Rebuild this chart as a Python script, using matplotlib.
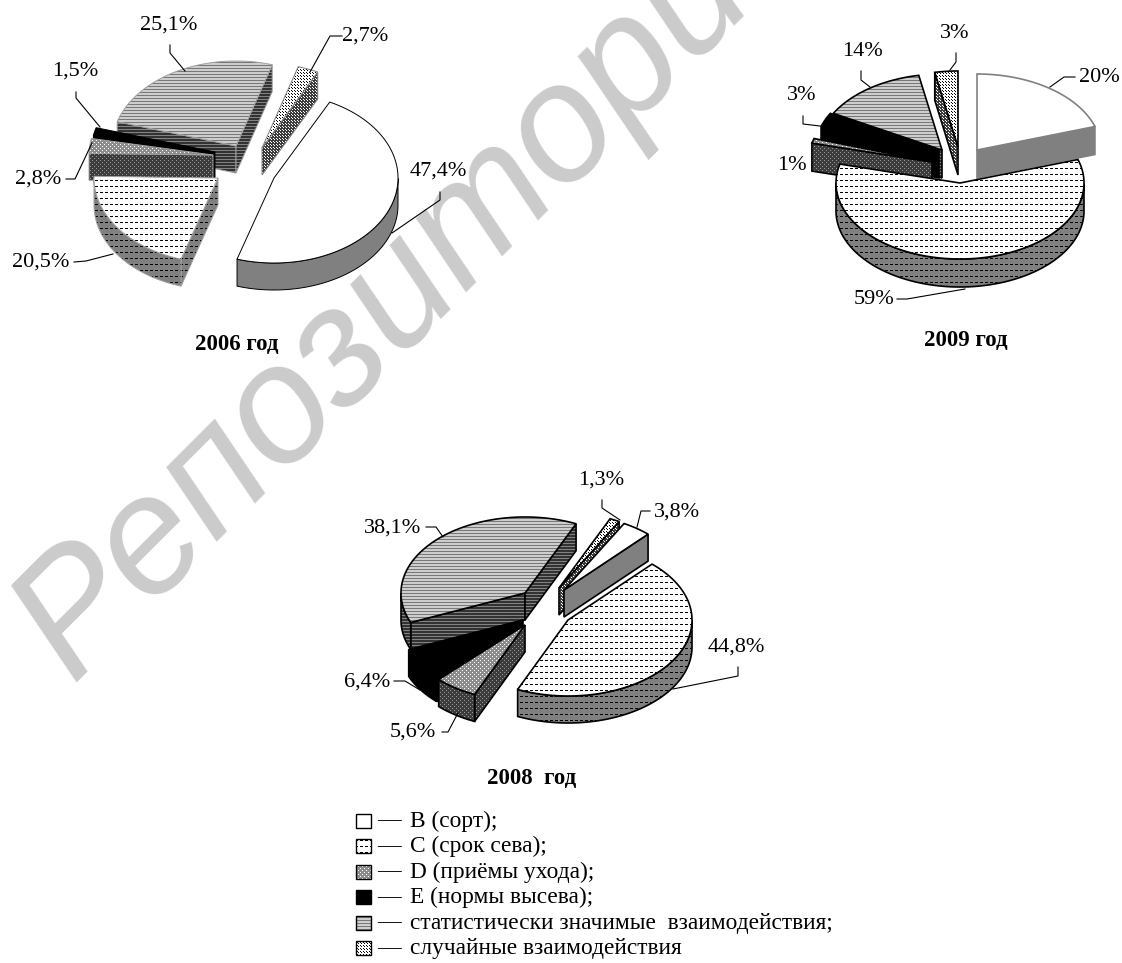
import numpy as np
import matplotlib
matplotlib.use("Agg")
import matplotlib.pyplot as plt
from matplotlib.patches import Polygon

plt.rcParams['font.family'] = ['Liberation Serif', 'DejaVu Serif']

# shares in percent, order: B, C, D, E, interactions, random
values_2006 = [47.4, 20.5, 2.8, 1.5, 25.1, 2.7]
values_2009 = [20, 59, 1, 3, 14, 3]
values_2008 = [3.8, 44.8, 5.6, 6.4, 38.1, 1.3]
labels_2006 = ["47,4%", "20,5%", "2,8%", "1,5%", "25,1%", "2,7%"]
labels_2009 = ["20%", "59%", "1%", "3%", "14%", "3%"]
labels_2008 = ["3,8%", "44,8%", "5,6%", "6,4%", "38,1%", "1,3%"]
legend_labels = ["B (сорт);", "C (срок сева);", "D (приёмы ухода);", "E (нормы высева);",
                 "статистически значимые  взаимодействия;", "случайные взаимодействия"]

# tips of the exploded slices on the figure
tips_2006 = [(274, 178), (218, 178), (213, 155), (215, 152), (236, 146), (262, 148)]
tips_2009 = [(977, 150), (960, 183), (932, 162), (939, 150), (942, 150), (958, 147)]
tips_2008 = [(564, 590), (568, 620), (525, 625), (523, 620), (525, 593), (559, 588)]
# outline colours, slice by slice
edges_2006 = ["black", "#a0a0a0", "#a0a0a0", "black", "#a0a0a0", "#808080"]
edges_2009 = ["#808080", "black", "black", "black", "black", "black"]
edges_2008 = ["black"] * 6


def dots(fg, bg, step):
    tile = np.full((step, step), bg, dtype=float)
    tile[0, 0] = fg
    tile[step // 2, step // 2] = fg
    return tile


def dashes(fg, bg):
    tile = np.full((6, 5), bg, dtype=float)
    tile[0, :3] = fg
    return tile


def stripes(*grays):
    return np.array(grays, dtype=float).reshape(-1, 1)


# (top texture, wall texture) per category, grey levels 0-255
textures = [
    (stripes(255), stripes(128)),
    (dashes(0, 255), dashes(0, 128)),
    (dots(255, 140, 4), dots(150, 60, 4)),
    (stripes(0), stripes(0)),
    (stripes(205, 205, 120), stripes(130, 50, 50)),
    (dots(0, 255, 3), dots(255, 60, 3)),
]

W, H = 1122, 963
fig = plt.figure(figsize=(W / 100, H / 100), dpi=100)
ax = fig.add_axes([0, 0, 1, 1])
ax.set_xlim(0, W)
ax.set_ylim(H, 0)
ax.axis('off')

ax.text(72, 682, "Репозиторий", family='Liberation Sans', style='italic', fontsize=120, color='#cbcbcb',
        rotation=45, rotation_mode='anchor', ha='left', va='baseline', zorder=0)


def face(points, tile, edge, lw):
    ny = H // tile.shape[0] + 1
    nx = W // tile.shape[1] + 1
    im = ax.imshow(np.tile(tile, (ny, nx))[:H, :W], cmap='gray', vmin=0, vmax=255, extent=(0, W, H, 0),
                   aspect='auto', interpolation='nearest', zorder=1)
    outline = Polygon(points, closed=True, fill=False, edgecolor=edge, lw=lw, zorder=1)
    ax.add_patch(outline)
    im.set_clip_path(outline)


def draw_pie(values, tips, edge_cols, start, rx, ry, depth, lw):
    edges = start + np.concatenate([[0], np.cumsum(values)]) * 3.6
    slices = []
    for i in range(len(values)):
        th = np.radians(np.arange(edges[i], edges[i + 1], 0.5).tolist() + [edges[i + 1]])
        tx, ty = tips[i]
        xs = tx + rx * np.sin(th)
        ys = ty - ry * np.cos(th)
        slices.append((np.mean(ys), i, th, xs, ys))
    # back slices first, so the front ones cover them
    for _, i, th, xs, ys in sorted(slices, key=lambda s: s[0]):
        tx, ty = tips[i]
        top_tile, wall_tile = textures[i]
        if np.sin(th[0]) < 0:
            face([(tx, ty), (xs[0], ys[0]), (xs[0], ys[0] + depth), (tx, ty + depth)], wall_tile, edge_cols[i], lw)
        if np.sin(th[-1]) > 0:
            face([(tx, ty), (xs[-1], ys[-1]), (xs[-1], ys[-1] + depth), (tx, ty + depth)], wall_tile, edge_cols[i], lw)
        front = np.cos(th) < 0
        if front.sum() > 1:
            band = np.column_stack([np.r_[xs[front], xs[front][::-1]],
                                    np.r_[ys[front], ys[front][::-1] + depth]])
            face(band, wall_tile, edge_cols[i], lw)
        top = np.column_stack([np.r_[tx, xs], np.r_[ty, ys]])
        face(top, top_tile, edge_cols[i], lw)


draw_pie(values_2006, tips_2006, edges_2006, 26.7, 124, 85, 27, 0.7)
draw_pie(values_2009, tips_2009, edges_2009, 0, 124, 76, 28, 1.2)
draw_pie(values_2008, tips_2008, edges_2008, 29, 124, 76, 27, 1.2)


def put_labels(labels, spots, leaders):
    for text, (x, y, ha) in zip(labels, spots):
        ax.text(x, y, text, fontsize=16, ha=ha, va='center', color='black')
    for line in leaders:
        ax.plot(*zip(*line), color='black', lw=0.8, zorder=2)


put_labels(labels_2006,
           [(438, 171, 'center'), (12, 262, 'left'), (15, 179, 'left'), (75, 71, 'center'),
            (169, 25, 'center'), (342, 36, 'left')],
           [[(440, 192), (440, 200), (392, 233)], [(74, 262), (86, 261), (113, 254)],
            [(66, 179), (75, 179), (92, 143)], [(76, 92), (76, 98), (100, 127)],
            [(170, 45), (170, 53), (185, 71)], [(342, 36), (330, 36), (310, 72)]])
put_labels(labels_2009,
           [(1079, 77, 'left'), (854, 299, 'left'), (792, 166, 'center'), (802, 96, 'center'),
            (862, 52, 'center'), (955, 33, 'center')],
           [[(1075, 77), (1064, 77), (1050, 87)], [(897, 299), (907, 299), (965, 289)],
            [(803, 116), (803, 124), (820, 126)], [(861, 71), (861, 80), (870, 87)],
            [(956, 53), (956, 62), (950, 70)]])
put_labels(labels_2008,
           [(654, 512, 'left'), (736, 647, 'center'), (390, 732, 'left'), (344, 682, 'left'),
            (364, 528, 'left'), (601, 480, 'center')],
           [[(650, 511), (641, 511), (637, 527)], [(738, 667), (738, 676), (673, 689)],
            [(442, 732), (448, 732), (458, 713)], [(394, 681), (405, 681), (420, 690)],
            [(426, 527), (436, 527), (443, 537)], [(602, 500), (602, 508), (620, 520)]])

ax.text(237, 344, "2006 год", fontsize=16.5, fontweight='bold', ha='center', va='center')
ax.text(966, 341, "2009 год", fontsize=16.5, fontweight='bold', ha='center', va='center')
ax.text(532, 778, "2008  год", fontsize=16.5, fontweight='bold', ha='center', va='center')

# legend
for i, text in enumerate(legend_labels):
    y = 821 + i * 25.5
    face([(356, y - 7), (371, y - 7), (371, y + 7), (356, y + 7)], textures[i][0], 'black', 1.0)
    ax.text(377, y, "—", fontsize=17, ha='left', va='center')
    ax.text(410, y, text, fontsize=16.8, ha='left', va='center')

fig.savefig("out.png", dpi=100)
